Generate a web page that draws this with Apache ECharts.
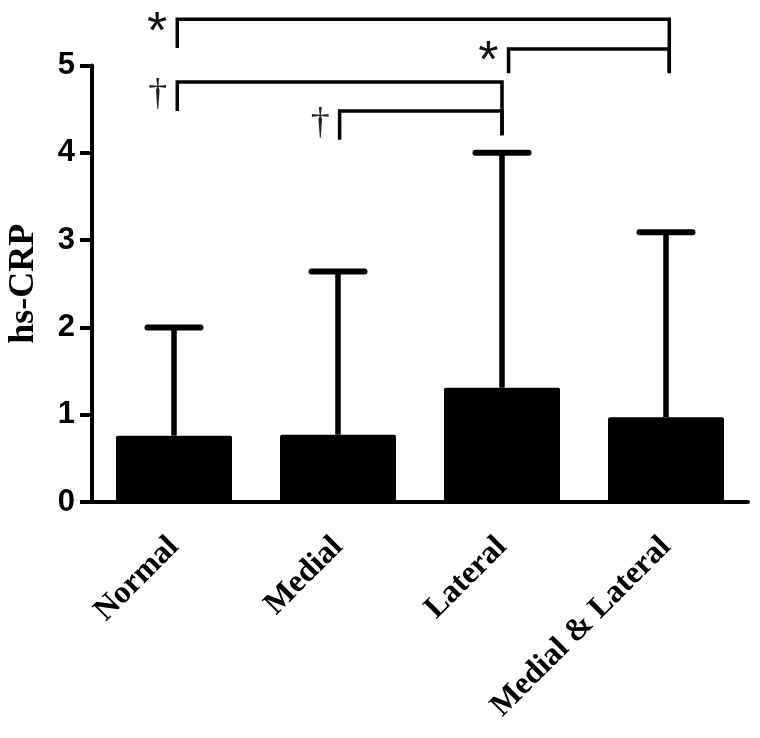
<!DOCTYPE html>
<html>
<head>
<meta charset="utf-8">
<script src="https://cdn.jsdelivr.net/npm/echarts@6/dist/echarts.min.js"></script>
<style>html,body{margin:0;padding:0;background:#fff}#c{width:760px;height:738px}</style>
</head>
<body>
<div id="c"></div>
<script>
var categories = ['Normal', 'Medial', 'Lateral', 'Medial & Lateral'];
var means = [0.76, 0.77, 1.31, 0.97];
var upperErr = [2.0, 2.64, 4.0, 3.09];
var yTicks = [0, 1, 2, 3, 4, 5];
// significance brackets (x in category units, y in data units)
var bracketLeft = [0.02, 2.04, 0.02, 1.01];
var bracketRight = [3.02, 3.02, 2.0, 2.0];
var bracketY = [5.53, 5.19, 4.81, 4.48];
var leftLegEnd = [5.20, 4.91, 4.48, 4.15];
var rightLegEnd = [4.93, 4.91, 4.20, 4.20];
var marks = ['*', '*', '\u2020', '\u2020'];

var chart = echarts.init(document.getElementById('c'), null, {renderer: 'canvas'});

var errData = categories.map(function (c, i) { return [i, means[i], upperErr[i]]; });
var brData = bracketLeft.map(function (l, i) {
  return [l, bracketRight[i], bracketY[i], leftLegEnd[i], rightLegEnd[i], i];
});

var option = {
  animation: false,
  backgroundColor: '#fff',
  grid: {left: 92, right: 12, top: 65.5, bottom: 236, containLabel: false, outerBoundsMode: 'none'},
  xAxis: [{
    type: 'category',
    data: categories,
    axisLine: {onZero: false, lineStyle: {color: '#000', width: 4}},
    axisTick: {alignWithLabel: true, length: 14, lineStyle: {color: '#000', width: 4}},
    axisLabel: {
      rotate: 45, margin: 40, color: '#000',
      fontFamily: 'Liberation Serif', fontWeight: 'bold', fontSize: 32
    }
  }, {
    type: 'value', min: -0.5, max: 3.5, show: false
  }],
  yAxis: {
    type: 'value', min: 0, max: 5, interval: 1,
    name: 'hs-CRP', nameLocation: 'middle', nameGap: 50,
    nameTextStyle: {fontFamily: 'Liberation Serif', fontWeight: 'bold', fontSize: 36, color: '#000'},
    axisLine: {show: true, onZero: false, lineStyle: {color: '#000', width: 4}},
    axisTick: {show: true, length: 12, lineStyle: {color: '#000', width: 4}},
    splitLine: {show: false},
    axisLabel: {
      margin: 17, color: '#000', fontFamily: 'Liberation Sans', fontWeight: 'bold', fontSize: 31,
      formatter: function (v) { return yTicks.indexOf(v) >= 0 ? String(v) : ''; }
    }
  },
  series: [{
    type: 'bar',
    data: means,
    barWidth: 116,
    itemStyle: {color: '#000', borderRadius: 2},
    z: 2
  }, {
    type: 'custom',
    data: errData,
    z: 3,
    clip: false,
    renderItem: function (params, api) {
      var i = api.value(0);
      var p0 = api.coord([i, api.value(1)]);
      var p1 = api.coord([i, api.value(2)]);
      var hw = 29.5;
      return {
        type: 'group',
        children: [{
          type: 'line',
          shape: {x1: p0[0], y1: p0[1], x2: p1[0], y2: p1[1]},
          style: {stroke: '#000', lineWidth: 5.5}
        }, {
          type: 'line',
          shape: {x1: p1[0] - hw + 3, y1: p1[1], x2: p1[0] + hw - 3, y2: p1[1]},
          style: {stroke: '#000', lineWidth: 6, lineCap: 'round'}
        }]
      };
    }
  }, {
    type: 'custom',
    xAxisIndex: 1,
    data: brData,
    clip: false,
    z: 4,
    renderItem: function (params, api) {
      var pl = api.coord([api.value(0), api.value(2)]);
      var pr = api.coord([api.value(1), api.value(2)]);
      var ll = api.coord([api.value(0), api.value(3)]);
      var rl = api.coord([api.value(1), api.value(4)]);
      var idx = api.value(5);
      var m = marks[idx];
      var isStar = m === '*';
      return {
        type: 'group',
        children: [{
          type: 'polyline',
          shape: {points: [[ll[0], ll[1]], [pl[0], pl[1]], [pr[0], pr[1]], [rl[0], rl[1]]]},
          style: {stroke: '#000', lineWidth: 3.5, fill: null, lineJoin: 'miter'}
        }, {
          type: 'text',
          style: {
            text: m,
            x: pl[0] - 10,
            y: isStar ? pl[1] - 12 : pl[1] - 6,
            align: 'right',
            verticalAlign: 'top',
            fill: isStar ? '#111' : '#222',
            font: isStar ? '52px "Liberation Sans"' : '38px "Liberation Serif"'
          }
        }]
      };
    }
  }]
};
chart.setOption(option);
</script>
</body>
</html>
